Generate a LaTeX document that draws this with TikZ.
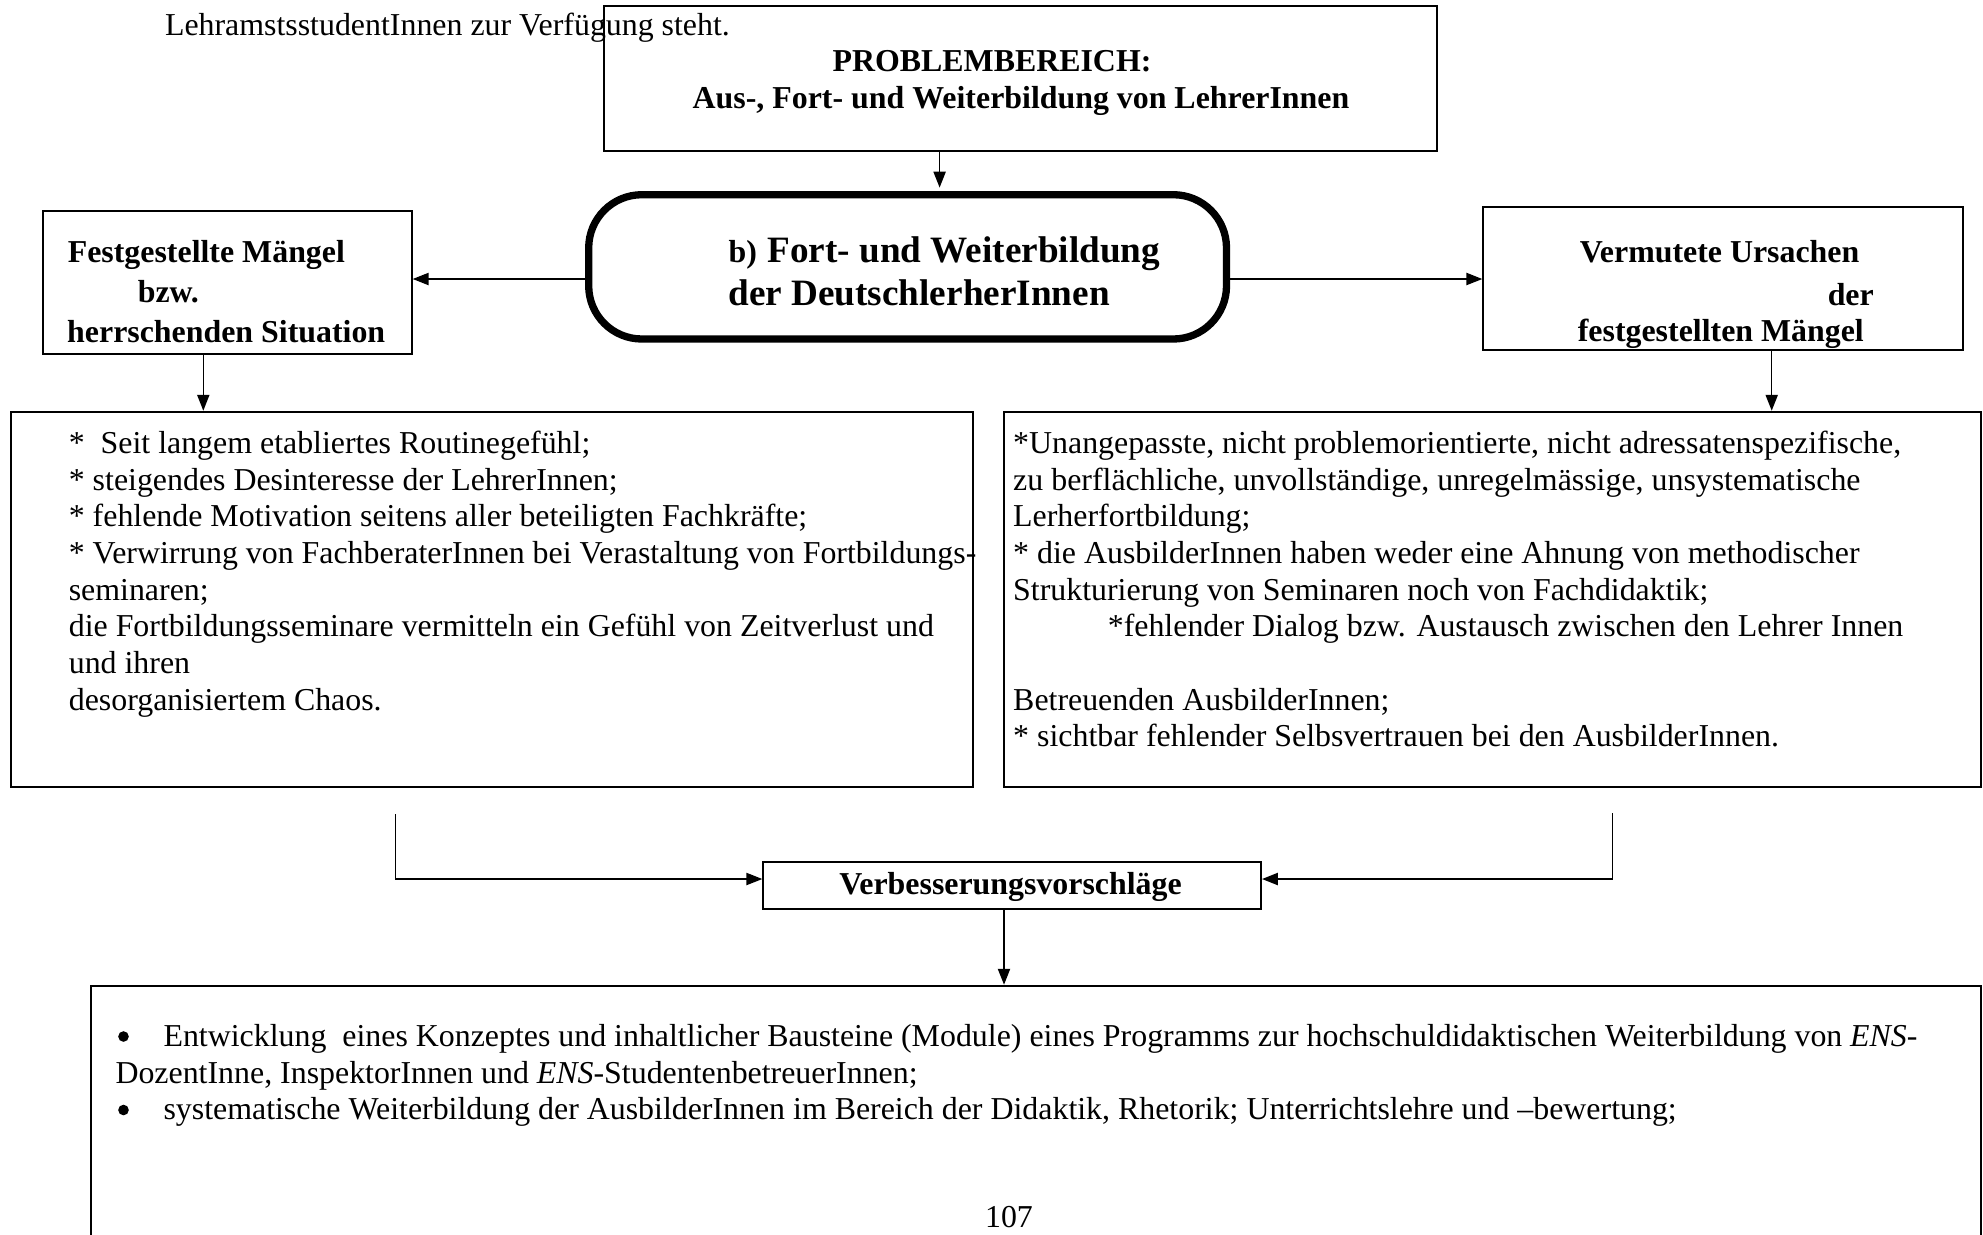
\documentclass[tikz,border=0pt]{standalone}
\usepackage{fontspec}
\setmainfont{Liberation Serif}
\usetikzlibrary{arrows.meta,fit}

\begin{document}
\begin{tikzpicture}[x=0.3764pt,y=-0.3764pt,
  box/.style={draw,line width=0.75pt,inner sep=0pt},
  bigbox/.style={draw,line width=2.75pt,inner sep=0pt,rounded corners=20pt},
  arr/.style={line width=0.55pt,-{Triangle[length=6pt,width=4.6pt]}},
  txt/.style={anchor=base west,inner sep=0pt,font=\fontsize{12pt}{13.8pt}\selectfont},
  btxt/.style={anchor=base west,inner sep=0pt,font=\fontsize{12pt}{13.8pt}\selectfont\bfseries},
  ctxt/.style={anchor=base,inner sep=0pt,font=\fontsize{12pt}{13.8pt}\selectfont\bfseries},
  htxt/.style={anchor=base west,inner sep=0pt,font=\fontsize{14pt}{16pt}\selectfont\bfseries},
  dot/.style={circle,fill,inner sep=0pt,minimum size=4pt}]

\useasboundingbox (0,0) rectangle (1983,1234);
\clip (0,0) rectangle (1983,1234);

% text carried over from the running page
\node[txt] (intro) at (164.5,35) {LehramstsstudentInnen zur Verfügung steht.};

% ---- boxes ----
\coordinate (top1) at (604,5.7);   \coordinate (top2) at (1436.7,150.7);
\node[box,fit=(top1)(top2)] (top) {};

\coordinate (rb1) at (588.7,194.7); \coordinate (rb2) at (1226.5,339);
\node[bigbox,fit=(rb1)(rb2)] (rbox) {};

\coordinate (lh1) at (43.3,211);   \coordinate (lh2) at (411.7,354.3);
\node[box,fit=(lh1)(lh2)] (lhead) {};

\coordinate (rh1) at (1483.3,206.7); \coordinate (rh2) at (1963.3,350);
\node[box,fit=(rh1)(rh2)] (rhead) {};

\coordinate (lb1) at (11,411.7);   \coordinate (lb2) at (972.5,787.3);
\node[box,fit=(lb1)(lb2)] (lbig) {};

\coordinate (rg1) at (1004,411.7); \coordinate (rg2) at (1980.5,787.3);
\node[box,fit=(rg1)(rg2)] (rbig) {};

\coordinate (vb1) at (763.3,861.7); \coordinate (vb2) at (1261,909);
\node[box,fit=(vb1)(vb2)] (verb) {};

\coordinate (bt1) at (91,985.7);   \coordinate (bt2) at (1980.5,1300);
\node[box,fit=(bt1)(bt2)] (bot) {};

% ---- texts in the boxes ----
\node[ctxt] (tA) at (992,71.7) {PROBLEMBEREICH:};
\node[ctxt] (tB) at (1021,108.3) {Aus-, Fort- und Weiterbildung von LehrerInnen};

\node[btxt] (rA) at (728,262) {b)};
\node[htxt] (rB) at (767,262) {Fort- und Weiterbildung};
\node[htxt] (rC) at (728,305) {der DeutschlerherInnen};

\node[btxt] (lA) at (67.3,262.3) {Festgestellte Mängel};
\node[btxt] (lB) at (137.3,302.7) {bzw.};
\node[btxt] (lC) at (66.7,342.7) {herrschenden Situation};

\node[btxt] (hA) at (1579.3,262.7) {Vermutete Ursachen};
\node[btxt,anchor=base east] (hB) at (1874.3,305) {der};
\node[btxt] (hC) at (1577.3,341.7) {festgestellten Mängel};

\node[txt] (m1) at (68.3,453.3) {*\ \ Seit langem etabliertes Routinegefühl;};
\node[txt] (m2) at (68.3,490)   {* steigendes Desinteresse der LehrerInnen;};
\node[txt] (m3) at (68.3,526.7) {* fehlende Motivation seitens aller beteiligten Fachkräfte;};
\node[txt] (m4) at (68.3,563.3) {* Verwirrung von FachberaterInnen bei Verastaltung von Fortbildungs-};
\node[txt] (m5) at (68.3,600)   {seminaren;};
\node[txt] (m6) at (68.3,636.7) {die Fortbildungsseminare vermitteln ein Gefühl von Zeitverlust und};
\node[txt] (m7) at (68.3,673.3) {und ihren};
\node[txt] (m8) at (68.3,710)   {desorganisiertem Chaos.};

\node[txt] (u1) at (1012.7,453.3) {*Unangepasste, nicht problemorientierte, nicht adressatenspezifische,};
\node[txt] (u2) at (1012.7,490)   {zu berflächliche, unvollständige, unregelmässige, unsystematische};
\node[txt] (u3) at (1012.7,526.7) {Lerherfortbildung;};
\node[txt] (u4) at (1012.7,563.3) {* die AusbilderInnen haben weder eine Ahnung von methodischer};
\node[txt] (u5) at (1012.7,600)   {Strukturierung von Seminaren noch von Fachdidaktik;};
\node[txt] (u6) at (1107.3,636.7) {*fehlender Dialog bzw. Austausch zwischen den Lehrer Innen};
\node[txt] (u7) at (1012.7,710)   {Betreuenden AusbilderInnen;};
\node[txt] (u8) at (1012.7,746.7) {* sichtbar fehlender Selbsvertrauen bei den AusbilderInnen.};

\node[ctxt] (vt) at (1010.5,894) {Verbesserungsvorschläge};

% bulleted list
\node[dot] (b1) at (123.5,1036.5) {};
\node[txt] (b2) at (163,1046.3) {Entwicklung\ \ eines Konzeptes und inhaltlicher Bausteine (Module) eines Programms zur hochschuldidaktischen Weiterbildung von \textit{ENS}-};
\node[txt] (b3) at (115,1083) {DozentInne, InspektorInnen und \textit{ENS}-StudentenbetreuerInnen;};
\node[dot] (b4) at (123.5,1110) {};
\node[txt] (b5) at (163,1119.7) {systematische Weiterbildung der AusbilderInnen im Bereich der Didaktik, Rhetorik; Unterrichtslehre und –bewertung;};

\node[txt,anchor=base] (pg) at (1009,1227) {107};

% ---- connectors ----
\coordinate (xa) at (939.6,0);
\coordinate (hy) at (0,279);
\coordinate (xl) at (203.3,0);
\coordinate (xr) at (1771.7,0);
\coordinate (ls) at (395.7,814);
\coordinate (rs) at (1612.5,813);
\coordinate (hz) at (0,879);
\coordinate (xv) at (1004,0);

\draw[arr,shorten >=1.3pt] (top.south -| xa) -- (rbox.north -| xa);
\draw[arr] (rbox.west |- hy) -- (lhead.east |- hy);
\draw[arr] (rbox.east |- hy) -- (rhead.west |- hy);
\draw[arr] (lhead.south -| xl) -- (lbig.north -| xl);
\draw[arr] (rhead.south -| xr) -- (rbig.north -| xr);
\draw[arr] (ls) |- (verb.west |- hz);
\draw[arr] (rs) |- (verb.east |- hz);
\draw[arr] (verb.south -| xv) -- (bot.north -| xv);

\end{tikzpicture}
\end{document}
